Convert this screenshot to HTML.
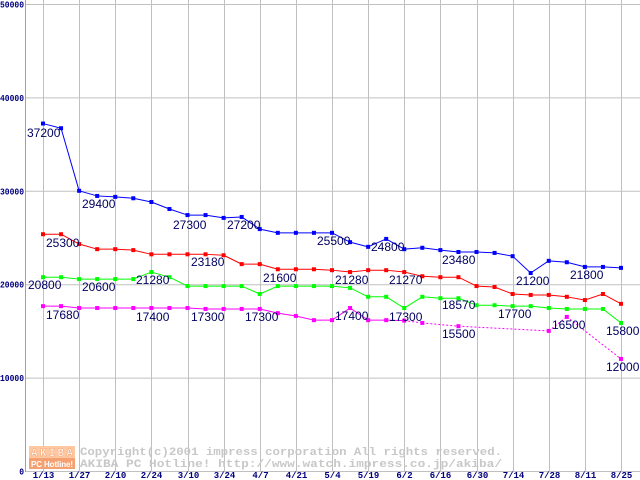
<!DOCTYPE html>
<html><head><meta charset="utf-8"><style>
html,body{margin:0;padding:0;background:#fff;}
svg{display:block;}
</style></head><body>
<svg id="chart" width="640" height="480" viewBox="0 0 640 480" xmlns="http://www.w3.org/2000/svg"></svg>
<script>
const xTickLabels = ["1/13","1/27","2/10","2/24","3/10","3/24","4/7","4/21","5/4","5/19","6/2","6/16","6/30","7/14","7/28","8/11","8/25"];
const yTickValues = [0,10000,20000,30000,40000,50000];
const seriesBlue = [37200,36700,30000,29450,29350,29200,28800,28050,27400,27400,27100,27200,25900,25500,25500,25500,25500,24500,24000,24850,23750,23900,23650,23450,23450,23350,23000,21200,22500,22350,21850,21850,21750];
const seriesRed = [25350,25350,24300,23750,23750,23650,23200,23200,23200,23200,23100,22150,22150,21600,21600,21600,21500,21300,21500,21500,21300,20850,20750,20750,19800,19700,18950,18850,18850,18650,18300,18950,17900];
const seriesGreen = [20750,20750,20550,20550,20550,20550,21300,20750,19800,19800,19800,19800,18950,19800,19800,19800,19800,19600,18650,18650,17450,18650,18500,18500,17750,17750,17650,17650,17450,17350,17350,17350,15850];
const seriesMagenta = [17650,17650,17450,17450,17450,17450,17450,17450,17450,17350,17350,17350,17350,16900,16600,16150,16150,17450,16150,16150,16100,15850,null,15500,null,null,null,null,15000,16500,null,null,12000];
const magentaDottedFrom = 20;
const labelTexts = ["37200","29400","27300","27200","25500","24800","23480","21200","21800",
 "25300","23180","21600","21280","21270",
 "20800","20600","21280","18570","17700","15800",
 "17680","17400","17300","17300","17400","17300","15500","16500","12000"];
const labelPos = [[27,137],[82,208],[173,229],[227,229],[317,245],[371,251],[442,264],[516,285],[570,279],
 [46,247],[191,266],[263,282],[335,284],[389,284],
 [28,289],[82,291],[136,284],[442,309],[498,318],[606,335],
 [46,319],[136,321],[191,321],[245,321],[335,320],[389,321],[442,338],[552,329],[606,371]];

const svg = document.getElementById('chart');
const NS = 'http://www.w3.org/2000/svg';
const X0 = 43, XSTEP = (621-43)/32, Y0 = 471, YSCALE = 0.00934;
function xAt(i){ return X0 + i*XSTEP; }
function yAt(v){ return Y0 - v*YSCALE; }
function mk(tag, attrs){ const e=document.createElementNS(NS,tag); for(const k in attrs) e.setAttribute(k,attrs[k]); svg.appendChild(e); return e; }

yTickValues.forEach((v)=>{
  const l = mk('line',{x1:25,x2:640,y1:yAt(v)+0.5,y2:yAt(v)+0.5,stroke:'#c0c0c0','stroke-width':1});
  
  
  const s = String(v);
  const w = s.length*4.8;
  const t = mk('text',{x:24-w,y:yAt(v)+3.5,'font-family':'Liberation Mono, monospace','font-size':9,'font-weight':'bold',fill:'#000080',textLength:w,lengthAdjust:'spacingAndGlyphs'});
  t.textContent = s;
  
  
});
xTickLabels.forEach((s,k)=>{
  const x = Math.round(xAt(k*2))+0.5;
  const l = mk('line',{x1:x,x2:x,y1:0,y2:471,stroke:'#c0c0c0','stroke-width':1});
  
  
  const t = mk('text',{x:x,y:478,'text-anchor':'middle','font-family':'Liberation Mono, monospace','font-size':9,'font-weight':'bold',fill:'#000080'});
  t.textContent = s;
  
  
});
const ax = mk('line',{x1:25.5,x2:25.5,y1:0,y2:472,stroke:'#a0a0a0'});



const g1 = mk('rect',{x:29,y:446,width:46,height:12,fill:'#ffc8a0'});


const g2 = mk('rect',{x:29,y:458,width:46,height:11,fill:'#f4a070'});


const lt1 = mk('text',{x:31,y:456,'font-family':'Liberation Mono, monospace','font-size':11,'font-weight':'bold',fill:'#fff',stroke:'#f4a070','stroke-width':0.5,textLength:42});
lt1.textContent='AKIBA';


const lt2 = mk('text',{x:31,y:467,'font-family':'Liberation Sans, sans-serif','font-size':8,'font-weight':'bold',fill:'#fff',textLength:42});
lt2.textContent='PC Hotline!';


const c1 = mk('text',{x:80,y:455,'font-family':'Liberation Mono, monospace','font-size':11,'font-weight':'bold',fill:'#c8c8c8',textLength:422,lengthAdjust:'spacingAndGlyphs'});
c1.textContent='Copyright(c)2001 impress corporation All rights reserved.';


const c2 = mk('text',{x:80,y:467,'font-family':'Liberation Mono, monospace','font-size':11,'font-weight':'bold',fill:'#c8c8c8',textLength:422,lengthAdjust:'spacingAndGlyphs'});
c2.textContent='AKIBA PC Hotline!  http://www.watch.impress.co.jp/akiba/';



function drawSeries(data, color, name, dottedFrom){
  let prev = -1;
  data.forEach((v,i)=>{
    if(v===null) return;
    if(prev>=0){
      const dotted = (i-prev>1) || (dottedFrom!==undefined && i>dottedFrom);
      const l = mk('line',{x1:xAt(prev),y1:yAt(data[prev]),x2:xAt(i),y2:yAt(v),stroke:color,'stroke-width':1});
      if(dotted) l.setAttribute('stroke-dasharray','2,2');
      
      
    }
    prev = i;
  });
  data.forEach((v,i)=>{
    if(v===null) return;
    const r = mk('rect',{x:xAt(i)-2,y:yAt(v)-2,width:4,height:4,fill:color});
    
    
  });
}
drawSeries(seriesBlue,'#0000ff','blue-series');
drawSeries(seriesRed,'#ff0000','red-series');
drawSeries(seriesGreen,'#00ff00','green-series');
drawSeries(seriesMagenta,'#ff00ff','magenta-series',magentaDottedFrom);

labelTexts.forEach((s,i)=>{
  const t = mk('text',{x:labelPos[i][0],y:labelPos[i][1],'font-family':'Liberation Sans, sans-serif','font-size':12,fill:'#000060'});
  t.textContent = s;
  
  
});
</script>
</body></html>
